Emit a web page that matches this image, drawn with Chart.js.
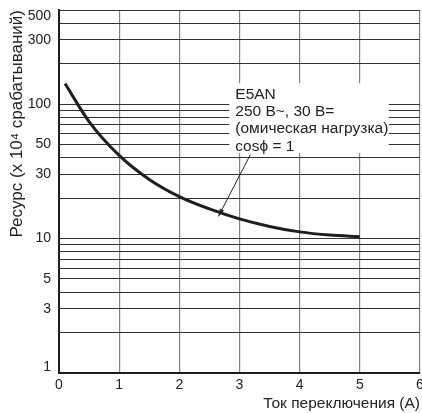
<!DOCTYPE html>
<html>
<head>
<meta charset="utf-8">
<script src="https://cdn.jsdelivr.net/npm/chart.js@4.4.0/dist/chart.umd.min.js"></script>
<style>
  html, body { margin: 0; padding: 0; background: #fff; }
  #wrap { width: 422px; height: 413px; }
</style>
</head>
<body>
<div id="wrap"><canvas id="c"></canvas></div>
<script>
// Ресурс E5AN, 250 В~ / 30 В=
const currentA = [0.1, 0.5, 1, 1.5, 2, 2.5, 3, 3.5, 4, 4.5, 5];
const lifeE4 = [142, 74, 41.5, 27.5, 20.5, 16.6, 14, 12.3, 11.2, 10.6, 10.3];

const yGridValues = [1, 2, 3, 4, 5, 6, 7, 8, 9, 10, 20, 30, 40, 50, 60, 70, 80, 90, 100, 200, 300, 400, 500];
const yTickLabels = [1, 3, 5, 10, 30, 50, 100, 300, 500];
const xTickValues = [0, 1, 2, 3, 4, 5, 6];

const noteLines = ['E5AN', '250 В~, 30 В=', '(омическая нагрузка)', 'cosϕ = 1'];
// рамка подписи и стрелка в единицах данных
const noteBox = { x0: 2.83, x1: 5.48, yTop: 143, yBottom: 43 };
const noteText = { x: 2.93, y: 118 };
const arrowFrom = { x: 3.18, y: 42 };
const arrowTo = { x: 2.65, y: 14.6 };

const FONT = "'Liberation Sans', Arial, sans-serif";

const notePlugin = {
    id: 'note',
    afterDatasetsDraw(chart) {
        const { ctx, scales: { x, y } } = chart;
        ctx.save();
        const bx0 = x.getPixelForValue(noteBox.x0);
        const bx1 = x.getPixelForValue(noteBox.x1);
        const by0 = y.getPixelForValue(noteBox.yTop);
        const by1 = y.getPixelForValue(noteBox.yBottom);
        ctx.fillStyle = '#fff';
        ctx.fillRect(bx0, by0, bx1 - bx0, by1 - by0);

        ctx.fillStyle = '#222';
        ctx.font = '15.5px ' + FONT;
        ctx.textBaseline = 'middle';
        const tx = x.getPixelForValue(noteText.x);
        let ty = y.getPixelForValue(noteText.y);
        noteLines.forEach(line => {
            ctx.fillText(line, tx, ty);
            ty += 17.3;
        });

        // стрелка
        const ax0 = x.getPixelForValue(arrowFrom.x), ay0 = y.getPixelForValue(arrowFrom.y);
        const ax1 = x.getPixelForValue(arrowTo.x), ay1 = y.getPixelForValue(arrowTo.y);
        ctx.strokeStyle = '#222';
        ctx.lineWidth = 1;
        ctx.beginPath();
        ctx.moveTo(ax0, ay0);
        ctx.lineTo(ax1, ay1);
        ctx.stroke();
        const ang = Math.atan2(ay1 - ay0, ax1 - ax0);
        ctx.beginPath();
        ctx.moveTo(ax1, ay1);
        ctx.lineTo(ax1 - 8 * Math.cos(ang - 0.3), ay1 - 8 * Math.sin(ang - 0.3));
        ctx.lineTo(ax1 - 8 * Math.cos(ang + 0.3), ay1 - 8 * Math.sin(ang + 0.3));
        ctx.closePath();
        ctx.fillStyle = '#222';
        ctx.fill();
        ctx.restore();
    }
};

// подписи крайних делений сдвинуты внутрь поля графика
function yLabel(v) {
    if (!yTickLabels.includes(v)) return '';
    if (v === 500) return ['', String(v)];
    if (v === 1) return [String(v), ''];
    return String(v);
}

new Chart(document.getElementById('c'), {
    type: 'scatter',
    data: {
        datasets: [{
            data: currentA.map((v, i) => ({ x: v, y: lifeE4[i] })),
            showLine: true,
            borderColor: '#1e1e1e',
            borderWidth: 3,
            pointRadius: 0,
            cubicInterpolationMode: 'monotone'
        }]
    },
    options: {
        responsive: true,
        maintainAspectRatio: false,
        animation: false,
        layout: { autoPadding: false, padding: { top: 10, right: 2, left: 0, bottom: 0 } },
        plugins: {
            legend: { display: false },
            tooltip: { enabled: false }
        },
        scales: {
            x: {
                type: 'linear',
                min: 0,
                max: 6,
                afterBuildTicks: scale => { scale.ticks = xTickValues.map(v => ({ value: v })); },
                afterFit: scale => {
                    scale.height = 40;
                    scale.paddingLeft = 0;
                    scale.paddingRight = 0;
                },
                grid: { color: '#808080', lineWidth: 1.2, drawTicks: false },
                border: { color: '#1e1e1e', width: 2 },
                ticks: { color: '#222', padding: 4, font: { family: FONT, size: 14 } },
                title: {
                    display: true,
                    text: 'Ток переключения (A)',
                    align: 'end',
                    color: '#222',
                    padding: { top: 1, bottom: 0 },
                    font: { family: FONT, size: 15.5 }
                }
            },
            y: {
                type: 'logarithmic',
                min: 1,
                max: 500,
                afterBuildTicks: scale => { scale.ticks = yGridValues.map(v => ({ value: v })); },
                afterFit: scale => {
                    scale.width = 59;
                    scale.paddingTop = 0;
                    scale.paddingBottom = 0;
                },
                grid: { color: '#333', lineWidth: 1, drawTicks: false },
                border: { color: '#1e1e1e', width: 2 },
                ticks: {
                    color: '#222',
                    padding: 8,
                    autoSkip: false,
                    font: { family: FONT, size: 14, lineHeight: 0.9 },
                    callback: yLabel
                },
                title: {
                    display: true,
                    text: 'Ресурс (x 10⁴ срабатываний)',
                    align: 'end',
                    color: '#222',
                    padding: { top: 7, bottom: 2 },
                    font: { family: FONT, size: 17 }
                }
            }
        }
    },
    plugins: [notePlugin]
});
</script>
</body>
</html>
